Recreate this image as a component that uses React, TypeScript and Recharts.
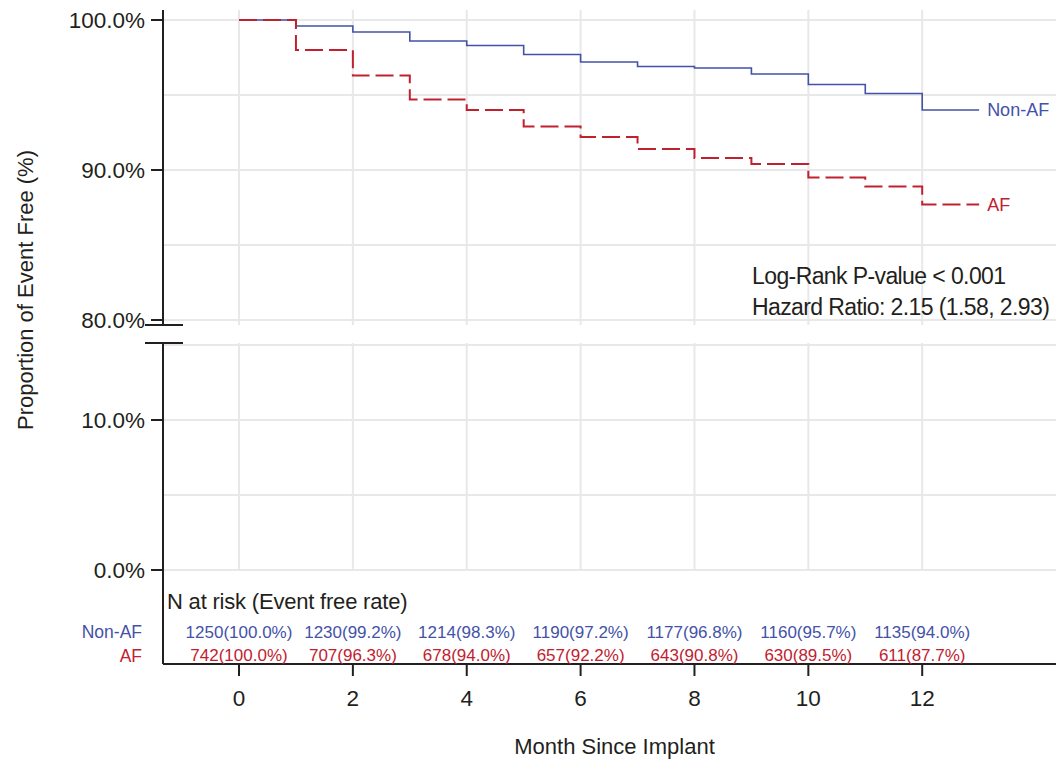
import React from "react";
import {
  LineChart,
  ComposedChart,
  Line,
  Scatter,
  XAxis,
  YAxis,
  CartesianGrid,
  ReferenceLine,
  ReferenceDot,
} from "recharts";

// Kaplan-Meier estimates (%), month 0..13
const MONTHS = [0, 1, 2, 3, 4, 5, 6, 7, 8, 9, 10, 11, 12, 13];
const NON_AF = [100, 99.6, 99.2, 98.6, 98.3, 97.7, 97.2, 96.9, 96.8, 96.4, 95.7, 95.1, 94.0, 94.0];
const AF = [100, 98.0, 96.3, 94.7, 94.0, 92.9, 92.2, 91.4, 90.8, 90.4, 89.5, 88.9, 87.7, 87.7];

// number at risk table
const RISK_MONTHS = [0, 2, 4, 6, 8, 10, 12];
const NON_AF_N = [1250, 1230, 1214, 1190, 1177, 1160, 1135];
const NON_AF_RATE = [100.0, 99.2, 98.3, 97.2, 96.8, 95.7, 94.0];
const AF_N = [742, 707, 678, 657, 643, 630, 611];
const AF_RATE = [100.0, 96.3, 94.0, 92.2, 90.8, 89.5, 87.7];

const X_TICKS = [0, 2, 4, 6, 8, 10, 12];
const TOP_TICKS = [80, 90, 100];
const TOP_GRID = [80, 85, 90, 95, 100];
const BOTTOM_TICKS = [0, 10];
const BOTTOM_GRID = [0, 5, 10, 15];

const BLUE = "#4352a8";
const RED = "#c1212f";
const INK = "#231f20";
const GRID = "#e8e8e8";
const FONT = '"Liberation Sans", Arial, Helvetica, sans-serif';

const X_DOMAIN: [number, number] = [-1.335, 14.35];
const TOP_DOMAIN: [number, number] = [80 - 1 / 3, 100 + 2 / 3];
const BOT_DOMAIN: [number, number] = [-6.267, 15.133];

// rows of the table sit below 0% in the lower panel
const ROW_NON_AF = -4.1;
const ROW_AF = -5.65;

const curveData = MONTHS.map((m, i) => ({ month: m, nonAf: NON_AF[i], af: AF[i] }));
const nonAfRows = RISK_MONTHS.map((m, i) => ({
  month: m,
  y: ROW_NON_AF,
  text: `${NON_AF_N[i]}(${NON_AF_RATE[i].toFixed(1)}%)`,
}));
const afRows = RISK_MONTHS.map((m, i) => ({
  month: m,
  y: ROW_AF,
  text: `${AF_N[i]}(${AF_RATE[i].toFixed(1)}%)`,
}));

const pct = (v: number) => `${v.toFixed(1)}%`;

const axisStyle = { stroke: INK, strokeWidth: 2 };
const tickStyle = { fontSize: 22.5, fill: INK, fontFamily: FONT };

const riskCell = (color: string) => (props: any) => {
  const { cx, cy, payload } = props;
  return (
    <text
      x={cx}
      y={cy}
      dy="0.36em"
      textAnchor="middle"
      fontSize={17}
      fill={color}
      fontFamily={FONT}
    >
      {payload.text}
    </text>
  );
};

export default function App() {
  return (
    <div
      style={{
        position: "absolute",
        left: 0,
        top: 0,
        width: 1056,
        height: 763,
        background: "#fff",
        fontFamily: FONT,
      }}
    >
      {/* upper panel: 80% - 100% */}
      <div style={{ position: "absolute", left: 0, top: 0 }}>
        <LineChart
          width={1056}
          height={340}
          data={curveData}
          margin={{ top: 10, right: 0, bottom: 15, left: 0 }}
        >
          <CartesianGrid
            stroke={GRID}
            strokeWidth={2}
            horizontalValues={TOP_GRID}
            verticalValues={X_TICKS}
          />
          <XAxis type="number" dataKey="month" domain={X_DOMAIN} hide allowDataOverflow />
          <YAxis
            type="number"
            domain={TOP_DOMAIN}
            ticks={TOP_TICKS}
            allowDataOverflow
            width={163}
            tickSize={12}
            tickMargin={6}
            tickFormatter={pct}
            axisLine={axisStyle}
            tickLine={axisStyle}
            tick={tickStyle}
          />
          <Line
            type="stepAfter"
            dataKey="nonAf"
            stroke={BLUE}
            strokeWidth={1.6}
            dot={false}
            isAnimationActive={false}
          />
          <Line
            type="stepAfter"
            dataKey="af"
            stroke={RED}
            strokeWidth={2}
            strokeDasharray="18 6"
            dot={false}
            isAnimationActive={false}
          />
          <ReferenceDot
            x={MONTHS[MONTHS.length - 1]}
            y={NON_AF[NON_AF.length - 1]}
            r={0}
            stroke="none"
            label={{ value: "Non-AF", position: "right", offset: 8, fill: BLUE, fontSize: 18 }}
          />
          <ReferenceDot
            x={MONTHS[MONTHS.length - 1]}
            y={AF[AF.length - 1]}
            r={0}
            stroke="none"
            label={{ value: "AF", position: "right", offset: 8, fill: RED, fontSize: 18 }}
          />
        </LineChart>
      </div>

      {/* lower panel: 0% - 15% plus at-risk table */}
      <div style={{ position: "absolute", left: 0, top: 330 }}>
        <ComposedChart width={1056} height={433} margin={{ top: 13, right: 0, bottom: 0, left: 0 }}>
          <CartesianGrid stroke={GRID} strokeWidth={2} horizontalValues={BOTTOM_GRID} vertical={false} />
          {X_TICKS.map((m) => (
            <ReferenceLine
              key={m}
              segment={[
                { x: m, y: 0 },
                { x: m, y: BOT_DOMAIN[1] },
              ]}
              stroke={GRID}
              strokeWidth={2}
            />
          ))}
          <XAxis
            type="number"
            dataKey="month"
            domain={X_DOMAIN}
            ticks={X_TICKS}
            allowDataOverflow
            height={99}
            tickSize={12}
            tickMargin={14}
            axisLine={axisStyle}
            tickLine={axisStyle}
            tick={tickStyle}
            label={{
              value: "Month Since Implant",
              position: "insideBottom",
              offset: 9,
              dx: 5,
              fontSize: 22,
              fill: INK,
            }}
          />
          <YAxis
            type="number"
            dataKey="y"
            domain={BOT_DOMAIN}
            ticks={BOTTOM_TICKS}
            allowDataOverflow
            width={163}
            tickSize={12}
            tickMargin={6}
            tickFormatter={pct}
            axisLine={axisStyle}
            tickLine={axisStyle}
            tick={tickStyle}
          />
          <Scatter data={nonAfRows} dataKey="y" shape={riskCell(BLUE)} isAnimationActive={false} />
          <Scatter data={afRows} dataKey="y" shape={riskCell(RED)} isAnimationActive={false} />
        </ComposedChart>
      </div>

      {/* axis break, titles and notes */}
      <svg
        width={1056}
        height={763}
        style={{ position: "absolute", left: 0, top: 0, pointerEvents: "none" }}
        fontFamily={FONT}
      >
        <line x1={145} x2={183} y1={325} y2={325} stroke={INK} strokeWidth={2} />
        <line x1={145} x2={183} y1={343} y2={343} stroke={INK} strokeWidth={2} />
        <text
          transform="translate(25,290) rotate(-90)"
          textAnchor="middle"
          dominantBaseline="central"
          fontSize={22}
          fill={INK}
        >
          Proportion of Event Free (%)
        </text>
        <text x={752} y={284} fontSize={23} letterSpacing={-0.6} fill={INK}>
          Log-Rank P-value &lt; 0.001
        </text>
        <text x={752} y={315} fontSize={23} letterSpacing={-0.6} fill={INK}>
          Hazard Ratio: 2.15 (1.58, 2.93)
        </text>
        <text x={167} y={609} fontSize={22} letterSpacing={-0.2} fill={INK}>
          N at risk (Event free rate)
        </text>
        <text x={142} y={638} textAnchor="end" fontSize={17.5} fill={BLUE}>
          Non-AF
        </text>
        <text x={142} y={662} textAnchor="end" fontSize={17.5} fill={RED}>
          AF
        </text>
      </svg>
    </div>
  );
}
